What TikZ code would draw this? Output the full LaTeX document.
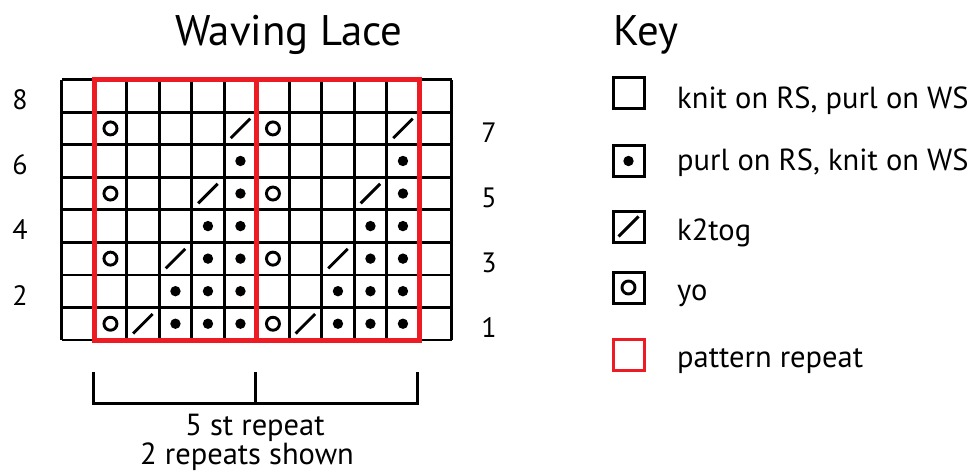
\documentclass[tikz,border=0pt]{standalone}
\usepackage{fontspec}
\setmainfont{PT Sans}
\usetikzlibrary{positioning}
\definecolor{repeatred}{RGB}{237,28,36}

\begin{document}
\begin{tikzpicture}[x=1pt,y=-1pt,
  titletext/.style={font=\fontsize{42.8}{46}\selectfont, anchor=base west, inner sep=0pt},
  labeltext/.style={font=\fontsize{30.5}{34}\selectfont, inner sep=0pt},
  rowtext/.style={font=\fontsize{28}{32}\selectfont, inner sep=0pt},
  gridline/.style={line width=2.8pt},
  repeatline/.style={draw=repeatred, line width=5pt},
  keybox/.style={draw, line width=3pt, minimum size=31pt, inner sep=0pt},
  yomark/.style={line width=2.9pt},
  ktogmark/.style={line width=2.9pt},
  bracketline/.style={line width=3pt}]
\useasboundingbox (0,0) rectangle (974,472);

% titles
\node[titletext] (title) at (175,45) {Waving Lace};
\node[titletext] (keytitle) at (613,45) {Key};

% chart
\begin{scope}[shift={(61.7pt,-340pt)}, x=32.5pt, y=32.55pt]
  \draw[gridline] (0,0) grid[step=1] (12,8);
  \foreach \a in {0,5} {
    % yo
    \foreach \r in {1,3,5,7}
      \draw[yomark] (1.5+\a,\r-0.5) circle (6.5pt);
    % k2tog
    \foreach \c/\r in {2/1,3/3,4/5,5/7}
      \draw[ktogmark] (\c+\a+0.2,\r-0.8) -- (\c+\a+0.8,\r-0.2);
    % purl
    \foreach \c/\r in {3/1,4/1,5/1,3/2,4/2,5/2,4/3,5/3,4/4,5/4,5/5,5/6}
      \fill (\c+\a+0.5,\r-0.5) circle (5.2pt);
  }
  \draw[repeatline] (1,0) rectangle (11,8);
  \draw[repeatline] (6,0) -- (6,8);
  % row numbers
  \foreach \r in {2,4,6,8}
    \node[rowtext] (row\r) at (-1.28,\r-0.62) {\r};
  \foreach \r in {1,3,5,7}
    \node[rowtext] (row\r) at (13.15,\r-0.62) {\r};
\end{scope}

% repeat bracket
\coordinate (brL) at (93,372);
\coordinate (brM) at (255,372);
\coordinate (brR) at (417,372);
\draw[bracketline] (brL) -- ++(0,31) -| (brR);
\draw[bracketline] (brM) -- ++(0,31);
\node[labeltext, anchor=base] (repeatlbl) at (255,435) {5 st repeat};
\node[labeltext, anchor=base] (shownlbl) at (247,464) {2 repeats shown};

% key
\node[keybox] (key1) at (628.5,93) {};
\node[keybox] (key2) at (628.5,161) {};
\node[keybox] (key3) at (628.5,226.5) {};
\node[keybox] (key4) at (628.5,287.5) {};
\node[keybox, draw=repeatred] (key5) at (628.5,354.5) {};
\fill (key2.center) circle (5.2pt);
\draw[ktogmark] ([shift={(-10pt,-10pt)}]key3.center) -- ([shift={(10pt,10pt)}]key3.center);
\draw[yomark] (key4.center) circle (6.5pt);

\node[labeltext, anchor=base west] (keytxt1) at (677,108) {knit on RS, purl on WS};
\node[labeltext, anchor=base west] (keytxt2) at (677,170) {purl on RS, knit on WS};
\node[labeltext, anchor=base west] (keytxt3) at (677,240) {k2tog};
\node[labeltext, anchor=base west] (keytxt4) at (677,300) {yo};
\node[labeltext, anchor=base west] (keytxt5) at (677,367) {pattern repeat};
\end{tikzpicture}
\end{document}
